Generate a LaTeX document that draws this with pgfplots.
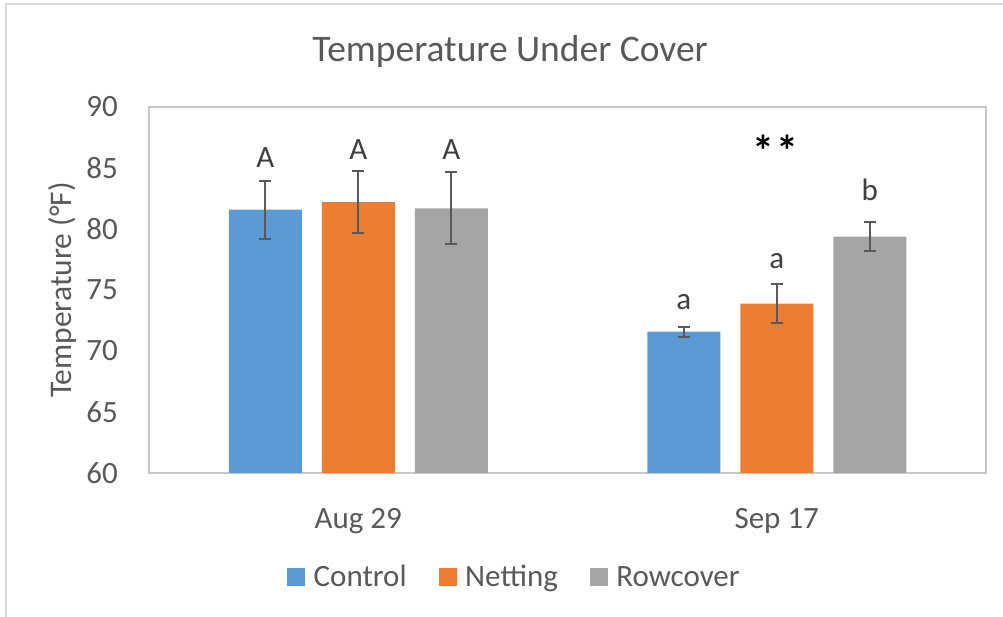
\documentclass[border=0pt]{standalone}
\usepackage{fontspec}
\setmainfont{Carlito}
\usepackage{pgfplots}
\pgfplotsset{compat=1.18}

\definecolor{ctrl}{HTML}{5B9BD5}
\definecolor{net}{HTML}{ED7D31}
\definecolor{row}{HTML}{A5A5A5}
\definecolor{txt}{HTML}{595959}
\definecolor{lbl}{HTML}{404040}
\definecolor{frame}{HTML}{D9D9D9}
\definecolor{errc}{HTML}{595959}

\newcommand{\lblfont}{\fontsize{31bp}{36bp}\selectfont}

\begin{document}
\begin{tikzpicture}
\path[use as bounding box] (0bp,0bp) rectangle (1003bp,617bp);
% chart area frame
\draw[frame, line width=1.5bp] (6bp,0bp) -- (6bp,613bp) -- (1003bp,613bp);
% chart title
\node[font=\fontsize{37.5bp}{42bp}\selectfont, text=txt, anchor=base, inner sep=0pt]
  at (510bp,555bp) {Temperature Under Cover};

\begin{axis}[
  at={(149bp,144bp)}, anchor=south west,
  width=837bp, height=366bp, scale only axis,
  ybar=20bp, bar width=73bp,
  xmin=-0.5, xmax=1.5, ymin=60, ymax=90,
  xtick={0,1}, xticklabels={Aug 29, Sep 17},
  ytick={60,65,...,90},
  major tick length=0pt,
  axis line style={draw=black!22, line width=1.5bp},
  tick label style={font=\lblfont, text=txt},
  /pgf/number format/assume math mode=true,
  yticklabel style={anchor=east, inner sep=0pt, xshift=-31bp},
  xticklabel style={anchor=base, inner sep=0pt, yshift=-55bp},
  ylabel={Temperature (°F)},
  ylabel style={at={(axis description cs:-0.1039,0.5)}, anchor=center,
    font=\fontsize{31.5bp}{36bp}\selectfont, text=txt, inner sep=0pt},
  legend style={at={(axis description cs:0.4354,-0.284)}, anchor=center,
    draw=none, font=\lblfont, text=txt, legend columns=-1,
    nodes={inner sep=0pt},
    /tikz/every odd column/.append style={column sep=8.5bp},
    /tikz/every even column/.append style={column sep=32bp}},
  legend image code/.code={\fill[#1,draw=none] (0bp,-9bp) rectangle (18bp,9bp);},
  error bars/y dir=both, error bars/y explicit,
  error bars/error bar style={errc, line width=2bp},
  error bars/error mark options={rotate=90, errc, mark size=6bp, line width=2bp},
  clip=false,
]
\addplot[fill=ctrl, draw=none] coordinates {(0,81.58) +- (0,2.38) (1,71.58) +- (0,0.41)};
\addplot[fill=net, draw=none] coordinates {(0,82.2) +- (0,2.52) (1,73.89) +- (0,1.57)};
\addplot[fill=row, draw=none] coordinates {(0,81.7) +- (0,2.94) (1,79.37) +- (0,1.2)};
\legend{Control,Netting,Rowcover}

% significance letters
\node[font=\lblfont, text=lbl, anchor=base, inner sep=0pt] at (axis cs:-0.2222,85.08) {A};
\node[font=\lblfont, text=lbl, anchor=base, inner sep=0pt] at (axis cs:0,85.66) {A};
\node[font=\lblfont, text=lbl, anchor=base, inner sep=0pt] at (axis cs:0.2222,85.66) {A};
\node[font=\lblfont, text=lbl, anchor=base, inner sep=0pt] at (axis cs:0.7778,73.44) {a};
\node[font=\lblfont, text=lbl, anchor=base, inner sep=0pt] at (axis cs:1,76.80) {a};
\node[font=\lblfont, text=lbl, anchor=base, inner sep=0pt] at (axis cs:1.2222,82.34) {b};
\node[font=\fontsize{44bp}{48bp}\selectfont\bfseries, text=black, anchor=center, inner sep=0pt]
  at (axis cs:0.996,86.4) {*\kern2bp*};
\end{axis}
\end{tikzpicture}
\end{document}
